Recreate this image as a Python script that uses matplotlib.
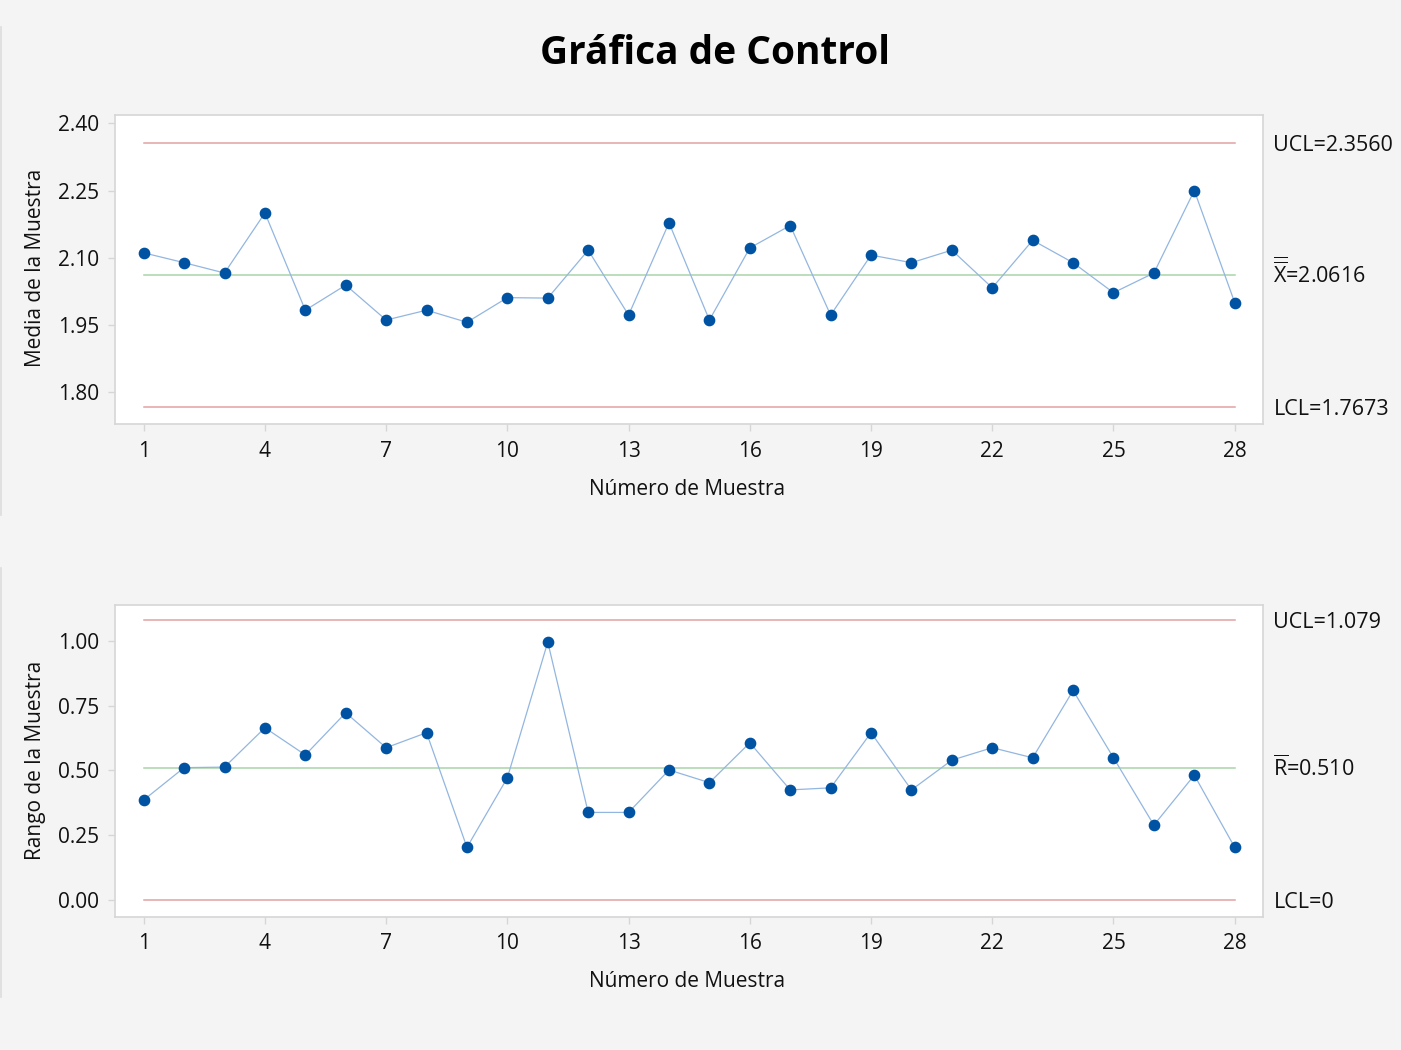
#!/usr/bin/env python3
"""Xbar-R control chart (Minitab style)."""

import matplotlib
matplotlib.use("Agg")
import matplotlib.pyplot as plt
from matplotlib.lines import Line2D
from matplotlib.transforms import blended_transform_factory

MUESTRAS = list(range(1, 29))
MEDIAS = [2.111, 2.089, 2.066, 2.200, 1.983, 2.039, 1.961, 1.983, 1.956, 2.011,
          2.010, 2.117, 1.972, 2.178, 1.961, 2.122, 2.172, 1.972, 2.106, 2.089,
          2.117, 2.033, 2.139, 2.089, 2.022, 2.066, 2.250, 2.000]
RANGOS = [0.385, 0.510, 0.512, 0.664, 0.559, 0.722, 0.587, 0.645, 0.202, 0.471,
          0.995, 0.337, 0.337, 0.501, 0.452, 0.606, 0.424, 0.432, 0.645, 0.424,
          0.539, 0.587, 0.548, 0.808, 0.548, 0.288, 0.481, 0.202]

XBAR_LIMITES = {"ucl": 2.3560, "cl": 2.0616, "lcl": 1.7673}
R_LIMITES = {"ucl": 1.079, "cl": 0.510, "lcl": 0.0}

XBAR_TICKS = [1.80, 1.95, 2.10, 2.25, 2.40]
R_TICKS = [0.00, 0.25, 0.50, 0.75, 1.00]
X_TICKS = list(range(1, 29, 3))

FONT = "Open Sans"
plt.rcParams["font.family"] = [FONT, "DejaVu Sans"]
plt.rcParams["mathtext.fontset"] = "custom"
plt.rcParams["mathtext.rm"] = FONT
plt.rcParams["mathtext.it"] = FONT + ":italic"
plt.rcParams["mathtext.bf"] = FONT + ":bold"

BG = "#f4f4f4"
SPINE = "#d6d6d6"
LIMIT_RED = "#e2a2a2"
CENTER_GREEN = "#a9d4a9"
LINE_BLUE = "#93b6e0"
DOT_BLUE = "#0052a3"
FS = 15


def draw_chart(ax, values, limits, yticks, ylim, labels):
    ax.set_facecolor("white")
    x0, x1 = MUESTRAS[0], MUESTRAS[-1]
    ax.plot([x0, x1], [limits["ucl"]] * 2, color=LIMIT_RED, lw=1.1)
    ax.plot([x0, x1], [limits["lcl"]] * 2, color=LIMIT_RED, lw=1.1)
    ax.plot([x0, x1], [limits["cl"]] * 2, color=CENTER_GREEN, lw=1.1)
    ax.plot(MUESTRAS, values, color=LINE_BLUE, lw=0.9, zorder=3)
    ax.plot(MUESTRAS, values, "o", color=DOT_BLUE, ms=7.4, mec=DOT_BLUE, zorder=4)

    ax.set_xlim(0.28, 28.7)
    ax.set_ylim(*ylim)
    ax.set_xticks(X_TICKS)
    ax.set_yticks(yticks)
    ax.set_yticklabels([f"{t:.2f}" for t in yticks])
    ax.tick_params(axis="both", colors=SPINE, labelcolor="#111111", labelsize=FS,
                   length=5, width=1)
    ax.tick_params(axis="y", pad=6)
    ax.tick_params(axis="x", pad=7)
    for s in ax.spines.values():
        s.set_color(SPINE)
        s.set_linewidth(1.2)

    trans = blended_transform_factory(ax.transAxes, ax.transData)
    for key, txt in labels:
        ax.annotate(txt, xy=(1.0, limits[key]), xycoords=trans,
                    xytext=(7.5, -5.8), textcoords="offset points",
                    ha="left", va="baseline", fontsize=15.5, color="#111111",
                    annotation_clip=False)


def main():
    fig = plt.figure(figsize=(14.01, 10.5), dpi=100)
    fig.patch.set_facecolor(BG)

    ax1 = fig.add_axes([0.0818, 0.5962, 0.8197, 0.2940])
    ax2 = fig.add_axes([0.0818, 0.1270, 0.8197, 0.2965])

    draw_chart(ax1, MEDIAS, XBAR_LIMITES, XBAR_TICKS, (1.729, 2.418),
               [("ucl", "UCL=2.3560"),
                ("cl", r"$\overline{\overline{\mathrm{X}}}$=2.0616"),
                ("lcl", "LCL=1.7673")])
    draw_chart(ax2, RANGOS, R_LIMITES, R_TICKS, (-0.0656, 1.137),
               [("ucl", "UCL=1.079"),
                ("cl", r"$\overline{\mathrm{R}}$=0.510"),
                ("lcl", "LCL=0")])

    fig.text(0.5104, 0.9495, "Gráfica de Control", ha="center", va="center",
             fontsize=28, fontweight="bold", color="black")

    fig.text(0.025, 0.7448, "Media de la Muestra", rotation=90, ha="center",
             va="center", fontsize=FS, color="#111111")
    fig.text(0.025, 0.2762, "Rango de la Muestra", rotation=90, ha="center",
             va="center", fontsize=FS, color="#111111")
    fig.text(0.4904, 0.5340, "Número de Muestra", ha="center", va="center",
             fontsize=FS, color="#111111")
    fig.text(0.4904, 0.0657, "Número de Muestra", ha="center", va="center",
             fontsize=FS, color="#111111")

    # faint panel borders on the left edge
    for yb, yt in [(1 - 515 / 1050, 1 - 27 / 1050), (1 - 997 / 1050, 1 - 568 / 1050)]:
        fig.add_artist(Line2D([0.0006, 0.0006], [yb, yt], color="#dcdcdc", lw=1.2))

    fig.savefig("out.png", dpi=100, facecolor=BG)
    plt.close(fig)


if __name__ == "__main__":
    main()
